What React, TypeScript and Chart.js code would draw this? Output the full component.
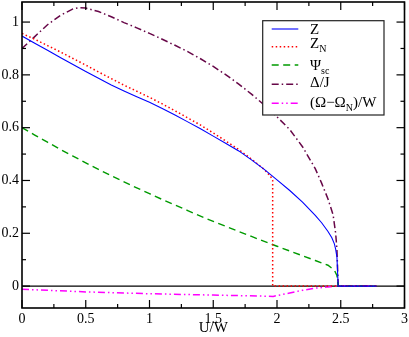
import React, { useEffect, useRef } from "react";
import { Chart, registerables } from "chart.js";

Chart.register(...registerables);

// ---- data ----
const zU = [0, 0.1, 0.2, 0.3, 0.4, 0.5, 0.6, 0.7, 0.8, 0.9, 1.0, 1.1, 1.2, 1.3, 1.4, 1.5, 1.6, 1.7, 1.8, 1.9, 2.0, 2.1, 2.2, 2.3, 2.35, 2.4, 2.43, 2.45, 2.46, 2.47, 2.48, 2.6, 2.78];
const zV = [0.947, 0.92, 0.893, 0.866, 0.839, 0.813, 0.787, 0.762, 0.739, 0.717, 0.696, 0.673, 0.648, 0.622, 0.596, 0.568, 0.54, 0.512, 0.478, 0.442, 0.402, 0.362, 0.318, 0.268, 0.24, 0.207, 0.183, 0.16, 0.14, 0.11, 0, 0, 0];

const znU = [0, 0.1, 0.2, 0.3, 0.4, 0.5, 0.6, 0.7, 0.8, 0.9, 1.0, 1.1, 1.2, 1.3, 1.4, 1.5, 1.6, 1.7, 1.8, 1.9, 1.95, 1.966, 1.966, 2.2, 2.5, 2.78];
const znV = [0.957, 0.935, 0.911, 0.887, 0.862, 0.837, 0.811, 0.786, 0.761, 0.738, 0.715, 0.69, 0.664, 0.637, 0.61, 0.58, 0.549, 0.517, 0.481, 0.442, 0.415, 0.4, 0, 0, 0, 0];

const psiU = [0, 0.1, 0.2, 0.3, 0.4, 0.5, 0.6, 0.7, 0.8, 0.9, 1.0, 1.1, 1.2, 1.3, 1.4, 1.5, 1.6, 1.7, 1.8, 1.9, 2.0, 2.1, 2.2, 2.3, 2.4, 2.45, 2.47, 2.48, 2.6, 2.78];
const psiV = [0.6, 0.572, 0.545, 0.518, 0.492, 0.467, 0.442, 0.418, 0.395, 0.372, 0.35, 0.328, 0.307, 0.286, 0.265, 0.245, 0.226, 0.207, 0.188, 0.169, 0.151, 0.133, 0.115, 0.097, 0.079, 0.06, 0.04, 0, 0, 0];

const delU = [0, 0.1, 0.2, 0.3, 0.4, 0.45, 0.5, 0.6, 0.7, 0.8, 0.9, 1.0, 1.1, 1.2, 1.3, 1.4, 1.5, 1.6, 1.7, 1.8, 1.9, 2.0, 2.1, 2.2, 2.3, 2.35, 2.4, 2.44, 2.46, 2.47, 2.48, 2.6, 2.78];
const delV = [0.9, 0.945, 0.99, 1.025, 1.05, 1.055, 1.053, 1.04, 1.02, 0.998, 0.978, 0.957, 0.935, 0.912, 0.888, 0.861, 0.832, 0.8, 0.765, 0.727, 0.686, 0.641, 0.593, 0.528, 0.445, 0.39, 0.33, 0.27, 0.2, 0.14, 0, 0, 0];

const omU = [0, 0.5, 1.0, 1.5, 1.97, 2.1, 2.2, 2.3, 2.4, 2.48, 2.78];
const omV = [-0.012, -0.022, -0.029, -0.034, -0.039, -0.026, -0.016, -0.008, -0.003, 0, 0];

const xTickLabels = ["0", "0.5", "1", "1.5", "2", "2.5", "3"];
const yTickLabels = ["0", "0.2", "0.4", "0.6", "0.8", "1"];
const xTitle = "U/W";

type Part = { t: string; sub?: boolean };
const legendZ: Part[] = [{ t: "Z" }];
const legendZN: Part[] = [{ t: "Z" }, { t: "N", sub: true }];
const legendPsi: Part[] = [{ t: "Ψ" }, { t: "sc", sub: true }];
const legendDel: Part[] = [{ t: "Δ/J" }];
const legendOm: Part[] = [{ t: "(Ω−Ω" }, { t: "N", sub: true }, { t: ")/W" }];

const FONT = "'Liberation Serif', 'Times New Roman', serif";

const series = [
  { u: zU, v: zV, color: "#0000ff", dash: [] as number[], width: 1.1, legend: legendZ },
  { u: znU, v: znV, color: "#ff0000", dash: [1.5, 2.5], width: 1.5, legend: legendZN },
  { u: psiU, v: psiV, color: "#009a00", dash: [7, 4.5], width: 1.4, legend: legendPsi },
  { u: delU, v: delV, color: "#670748", dash: [7, 3, 1.5, 3], width: 1.5, legend: legendDel },
  { u: omU, v: omV, color: "#ff00ff", dash: [7, 3, 1.5, 3, 1.5, 3], width: 1.5, legend: legendOm },
];

const rowLineOff = [8.3, 26, 44.3, 63.6, 82.6];
const rowBaseOff = [13.6, 27, 49.3, 66, 86];

function drawParts(ctx: CanvasRenderingContext2D, parts: Part[], x: number, base: number) {
  let cx = x;
  for (const p of parts) {
    ctx.font = p.sub ? `10px ${FONT}` : `15px ${FONT}`;
    ctx.fillText(p.t, cx, p.sub ? base + 4 : base);
    cx += ctx.measureText(p.t).width;
  }
}

const decoPlugin = {
  id: "deco",
  beforeDatasetsDraw(chart: any) {
    const { ctx, chartArea: a, scales } = chart;
    const y0 = scales.y.getPixelForValue(0);
    ctx.save();
    ctx.strokeStyle = "#000";
    ctx.lineWidth = 1.2;
    ctx.beginPath();
    ctx.moveTo(a.left, y0);
    ctx.lineTo(a.right, y0);
    ctx.stroke();
    ctx.restore();
  },
  afterDraw(chart: any) {
    const { ctx, chartArea: a, scales } = chart;
    const xs = scales.x, ys = scales.y;
    ctx.save();
    ctx.strokeStyle = "#000";
    const line = (x1: number, y1: number, x2: number, y2: number) => {
      ctx.beginPath();
      ctx.moveTo(x1, y1);
      ctx.lineTo(x2, y2);
      ctx.stroke();
    };
    ctx.lineWidth = 1.2;
    for (let i = 0; i <= 12; i++) {
      const px = xs.getPixelForValue(i * 0.25);
      const len = i % 2 === 0 ? 8 : 4;
      line(px, a.bottom, px, a.bottom - len);
      line(px, a.top, px, a.top + len);
    }
    for (let i = 0; i <= 10; i++) {
      const py = ys.getPixelForValue(i / 10);
      const len = i % 2 === 0 ? 8 : 4;
      line(a.left, py, a.left + len, py);
      line(a.right, py, a.right - len, py);
    }
    ctx.lineWidth = 1.6;
    ctx.strokeRect(a.left, a.top, a.right - a.left, a.bottom - a.top);

    // legend
    const L = a.right - 141.8, T = a.top + 18.7, W = 121.3, H = 94.3;
    ctx.fillStyle = "#fff";
    ctx.fillRect(L, T, W, H);
    ctx.lineWidth = 1.2;
    ctx.strokeStyle = "#222";
    ctx.strokeRect(L, T, W, H);
    series.forEach((s, i) => {
      const ly = T + rowLineOff[i];
      ctx.strokeStyle = s.color;
      ctx.lineWidth = s.width;
      ctx.setLineDash(s.dash);
      line(L + 9, ly, L + 35.6, ly);
      ctx.setLineDash([]);
      ctx.fillStyle = "#000";
      ctx.textBaseline = "alphabetic";
      ctx.textAlign = "left";
      drawParts(ctx, s.legend, L + 47.3, T + rowBaseOff[i]);
    });
    ctx.restore();
  },
};

export default function App() {
  const ref = useRef<HTMLCanvasElement | null>(null);
  useEffect(() => {
    if (!ref.current) return;
    const chart = new Chart(ref.current, {
      type: "line",
      data: {
        datasets: series.map((s) => ({
          data: s.u.map((x, i) => ({ x, y: s.v[i] })),
          borderColor: s.color,
          borderWidth: s.width,
          borderDash: s.dash,
          pointRadius: 0,
          fill: false,
          tension: 0,
        })),
      },
      options: {
        animation: false,
        responsive: false,
        maintainAspectRatio: false,
        layout: { padding: { top: 2, right: 4.5, left: 0, bottom: 0 } },
        plugins: { legend: { display: false }, tooltip: { enabled: false } },
        scales: {
          x: {
            type: "linear",
            min: 0,
            max: 3,
            grid: { display: false, drawTicks: false },
            border: { display: false },
            ticks: {
              stepSize: 0.5,
              autoSkip: false,
              maxRotation: 0,
              padding: 3,
              color: "#000",
              font: { family: FONT, size: 14 },
              callback: (v: any) => xTickLabels[Math.round(Number(v) * 2)] ?? "",
            },
            title: {
              display: true,
              text: xTitle,
              color: "#000",
              font: { family: FONT, size: 15 },
              padding: { top: 0, bottom: 0 },
            },
            afterFit: (s: any) => {
              s.height = 29;
              s.paddingLeft = 0;
              s.paddingRight = 0;
            },
          },
          y: {
            type: "linear",
            min: -0.083,
            max: 1.076,
            grid: { display: false, drawTicks: false },
            border: { display: false },
            ticks: {
              stepSize: 0.2,
              includeBounds: false,
              padding: 3,
              color: "#000",
              font: { family: FONT, size: 14 },
              callback: (v: any) => {
                const k = Math.round(Number(v) * 5);
                return Math.abs(Number(v) * 5 - k) < 1e-6 ? yTickLabels[k] ?? "" : "";
              },
            },
            afterFit: (s: any) => {
              s.width = 22;
              s.paddingTop = 0;
              s.paddingBottom = 0;
            },
          },
        },
      },
      plugins: [decoPlugin],
    } as any);
    return () => chart.destroy();
  }, []);
  return (
    <div style={{ position: "absolute", left: 0, top: 0, width: 409, height: 337 }}>
      <canvas ref={ref} width={409} height={337} style={{ display: "block" }} />
    </div>
  );
}
